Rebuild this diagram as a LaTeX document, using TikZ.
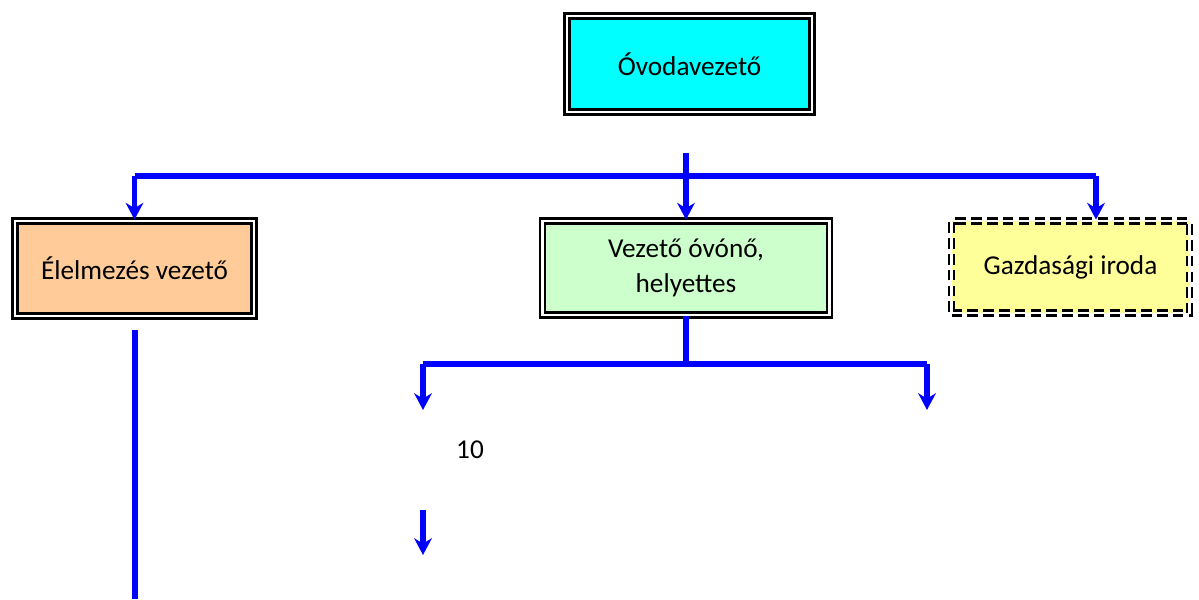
\documentclass[tikz,border=0pt]{standalone}
\usepackage{fontspec}
\setmainfont{Carlito}
\usepackage{tikz}
\usetikzlibrary{arrows.meta, positioning}
\definecolor{cian}{RGB}{0,255,255}
\definecolor{narancs}{RGB}{255,204,153}
\definecolor{zold}{RGB}{204,255,204}
\definecolor{sarga}{RGB}{255,255,153}
\tikzstyle{doboz} = [draw=black, line width=1.6pt, double=white, double distance=1.3pt, rectangle, align=center, font=\fontsize{15.5}{19.5}\selectfont]
\tikzstyle{szaggatott} = [doboz, dash pattern=on 6pt off 3pt]
\tikzstyle{vonal} = [draw=blue, line width=3.4pt]
\tikzstyle{nyil} = [vonal, -{Stealth[length=9.5pt, width=10pt, inset=3pt]}]

\begin{document}
\begin{tikzpicture}[x=0.02cm, y=-0.02cm]
	\useasboundingbox (0,0) rectangle (1199,599);
	% dobozok
	\node [doboz, fill=cian, minimum width=4.9cm, minimum height=1.92cm] (ovodavezeto) at (689.5,64) {Óvodavezető};
	\node [doboz, fill=narancs, minimum width=4.78cm, minimum height=1.9cm] (elelmezes) at (134.5,268.5) {Élelmezés vezető};
	\node [doboz, fill=zold, minimum width=5.74cm, minimum height=1.88cm] (helyettes) at (686,268) {Vezető óvónő,\\ helyettes};
	\node [szaggatott, fill=sarga, minimum width=4.76cm, minimum height=1.84cm] (iroda) at (1070.5,267) {Gazdasági iroda};
	\node [font=\fontsize{15.5}{19.5}\selectfont] (szam) at (470,450) {10};
	% pontok
	\coordinate (torzs) at (686,153);
	\coordinate (sin1) at (686,176);
	\coordinate (irodasin) at (1096,176);
	\coordinate (sin2) at (686,364);
	\coordinate (bal) at (423,410);
	\coordinate (jobb) at (927,410);
	\coordinate (also1) at (423,510);
	\coordinate (also2) at (423,555);
	\coordinate (lent1) at (135,330);
	\coordinate (lent2) at (135,599);
	% elso szint
	\draw [vonal] (elelmezes.north |- sin1) -- (irodasin);
	\draw [nyil] (torzs) -- (helyettes.north);
	\draw [nyil] (elelmezes.north |- sin1) -- (elelmezes.north);
	\draw [nyil] (irodasin) -- (irodasin |- iroda.north);
	% masodik szint
	\draw [vonal] (helyettes.south) -- (sin2);
	\draw [vonal] (bal |- sin2) -- (jobb |- sin2);
	\draw [nyil] (bal |- sin2) -- (bal);
	\draw [nyil] (jobb |- sin2) -- (jobb);
	\draw [nyil] (also1) -- (also2);
	\draw [vonal] (lent1) -- (lent2);
\end{tikzpicture}
\end{document}
